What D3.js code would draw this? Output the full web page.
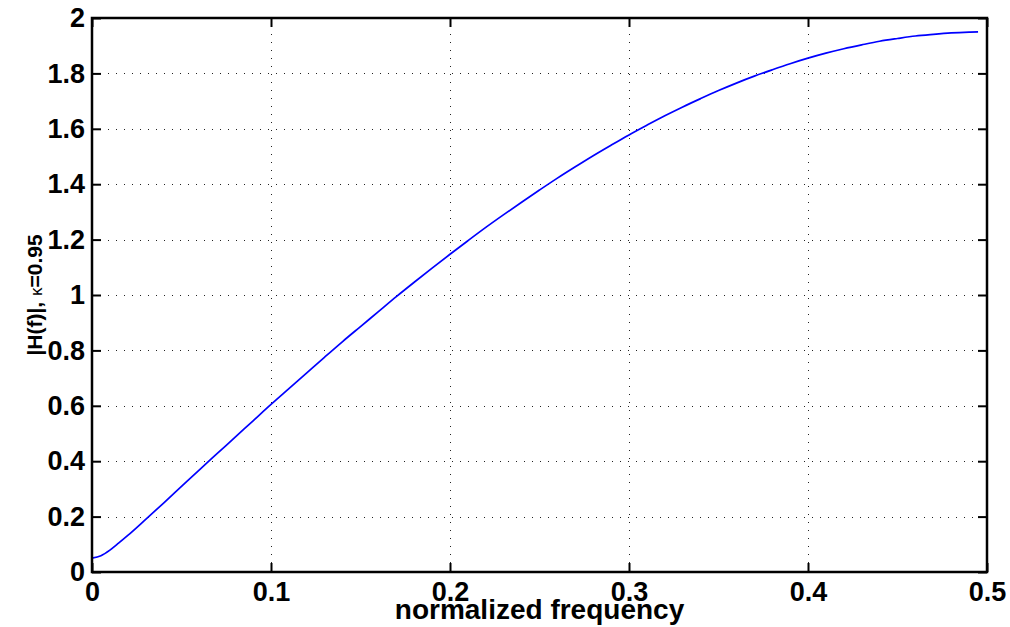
<!DOCTYPE html>
<html>
<head>
<meta charset="utf-8">
<script src="https://cdn.jsdelivr.net/npm/d3@7"></script>
<style>
  body { margin: 0; background: #fff; }
  svg { display: block; }
  text { font-family: "Liberation Sans", Arial, Helvetica, sans-serif; font-weight: bold; fill: #000; }
</style>
</head>
<body>
<svg id="chart" width="1010" height="627"></svg>
<script>
// values
var freq = [0, 0.005, 0.01, 0.015, 0.02, 0.03, 0.04, 0.05, 0.06, 0.07, 0.08, 0.09,
            0.10, 0.11, 0.12, 0.13, 0.14, 0.15, 0.16, 0.17, 0.18, 0.19,
            0.20, 0.21, 0.22, 0.23, 0.24, 0.25, 0.26, 0.27, 0.28, 0.29,
            0.30, 0.31, 0.32, 0.33, 0.34, 0.35, 0.36, 0.37, 0.38, 0.39,
            0.40, 0.41, 0.42, 0.43, 0.44, 0.45, 0.46, 0.47, 0.48, 0.49, 0.495];
var mag = [0.050, 0.059, 0.079, 0.105, 0.132, 0.190, 0.249, 0.309, 0.369, 0.428, 0.487, 0.546,
           0.605, 0.662, 0.719, 0.776, 0.832, 0.886, 0.940, 0.994, 1.046, 1.097,
           1.147, 1.196, 1.244, 1.290, 1.335, 1.379, 1.422, 1.463, 1.503, 1.541,
           1.578, 1.613, 1.647, 1.679, 1.709, 1.738, 1.765, 1.790, 1.813, 1.835,
           1.855, 1.873, 1.889, 1.903, 1.916, 1.926, 1.935, 1.941, 1.946, 1.949, 1.950];
var xTicks = [0, 0.1, 0.2, 0.3, 0.4, 0.5];
var yTicks = [0, 0.2, 0.4, 0.6, 0.8, 1, 1.2, 1.4, 1.6, 1.8, 2];

var svg = d3.select("#chart");
var pL = 92, pR = 987, pT = 18, pB = 572;

var x = d3.scaleLinear().domain([0, 0.5]).range([pL, pR]);
var y = d3.scaleLinear().domain([0, 2]).range([pB, pT]);

// grid
var grid = svg.append("g")
    .attr("stroke", "#222")
    .attr("stroke-width", 1)
    .attr("stroke-dasharray", "1,7");
grid.selectAll(".gx").data(xTicks.slice(1, -1)).enter().append("line")
    .attr("x1", function(d) { return Math.round(x(d)) + 0.5; })
    .attr("x2", function(d) { return Math.round(x(d)) + 0.5; })
    .attr("y1", pT).attr("y2", pB);
grid.selectAll(".gy").data(yTicks.slice(1, -1)).enter().append("line")
    .attr("y1", function(d) { return Math.round(y(d)) + 0.5; })
    .attr("y2", function(d) { return Math.round(y(d)) + 0.5; })
    .attr("x1", pL).attr("x2", pR);

// curve
var line = d3.line()
    .x(function(d, i) { return x(freq[i]); })
    .y(function(d) { return y(d); })
    .curve(d3.curveMonotoneX);
svg.append("path")
    .datum(mag)
    .attr("d", line)
    .attr("fill", "none")
    .attr("stroke", "#0000ff")
    .attr("stroke-width", 1.7);

// axes (ticks inward, on all four sides)
var tl = 9;
svg.append("g").attr("transform", "translate(0," + pB + ")")
    .call(d3.axisBottom(x).tickValues(xTicks).tickSizeInner(-tl).tickSizeOuter(0).tickPadding(10)
      .tickFormat(d3.format("")));
svg.append("g").attr("transform", "translate(0," + pT + ")")
    .call(d3.axisTop(x).tickValues(xTicks).tickSizeInner(-tl).tickSizeOuter(0).tickFormat(""));
svg.append("g").attr("transform", "translate(" + pL + ",0)")
    .call(d3.axisLeft(y).tickValues(yTicks).tickSizeInner(-tl).tickSizeOuter(0).tickPadding(7)
      .tickFormat(d3.format("")));
svg.append("g").attr("transform", "translate(" + pR + ",0)")
    .call(d3.axisRight(y).tickValues(yTicks).tickSizeInner(-tl).tickSizeOuter(0).tickFormat(""));

svg.selectAll(".domain").remove();
svg.selectAll(".tick line").attr("stroke", "#000").attr("stroke-width", 2);
svg.selectAll(".tick text")
    .attr("font-family", "Liberation Sans, Arial, sans-serif")
    .attr("font-weight", "bold")
    .attr("font-size", 27)
    .attr("fill", "#000");

// box
svg.append("rect")
    .attr("x", pL).attr("y", pT)
    .attr("width", pR - pL).attr("height", pB - pT)
    .attr("fill", "none").attr("stroke", "#000").attr("stroke-width", 2.5);

// labels
svg.append("text")
    .attr("x", (pL + pR) / 2).attr("y", 619)
    .attr("text-anchor", "middle")
    .attr("font-size", 28)
    .text("normalized frequency");

var yl = svg.append("text")
    .attr("transform", "translate(42,295) rotate(-90)")
    .attr("text-anchor", "middle")
    .attr("font-size", 21);
yl.append("tspan").text("|H(f)|, ");
yl.append("tspan").attr("font-weight", "normal").attr("font-size", 17).text("κ");
yl.append("tspan").text("=0.95");
</script>
</body>
</html>
